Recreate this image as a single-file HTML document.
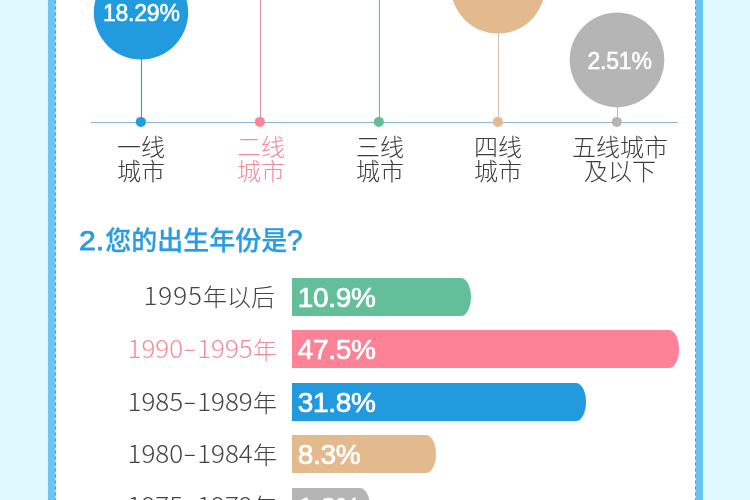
<!DOCTYPE html>
<html lang="zh-CN">
<head>
<meta charset="utf-8">
<title>调查结果</title>
<style>
html,body{margin:0;padding:0;}
body{width:750px;height:500px;overflow:hidden;position:relative;background:#e0f8ff;font-family:"Liberation Sans","Noto Sans CJK SC",sans-serif;}
svg{position:absolute;left:0;top:0;}
.bubt{position:absolute;width:120px;text-align:center;color:#fff;font-size:23px;letter-spacing:-0.2px;line-height:26px;height:26px;white-space:nowrap;-webkit-text-stroke:0.55px #fff;}
.city{position:absolute;width:140px;text-align:center;font-family:"Liberation Sans","Noto Sans CJK SC",sans-serif;font-weight:300;font-size:24px;line-height:24px;color:#3d3d3d;top:135.6px;}
h2{position:absolute;left:79px;top:222px;margin:0;font-size:26px;line-height:36px;font-weight:500;color:#2a9de0;white-space:nowrap;-webkit-text-stroke:0.25px #2a9de0;}
h2 span{font-size:27.5px;font-weight:normal;-webkit-text-stroke:0.75px #2a9de0;display:inline-block;transform:scaleX(1.1);transform-origin:left center;}
h2 .n{margin-right:3.2px;}
h2 .q{margin-left:-0.5px;font-size:29px;transform:scaleX(0.97);}
.lab{position:absolute;right:473px;width:220px;text-align:right;font-weight:300;font-size:24px;line-height:38px;height:38px;color:#444;white-space:nowrap;font-family:"Noto Sans CJK SC","Liberation Sans",sans-serif;}
.lab i{font-style:normal;display:inline-block;transform:translateY(-1.3px) scaleX(1.082);transform-origin:right center;}
.lab b{font-weight:300;display:inline-block;width:13px;text-align:center;transform:translateY(-1px) scaleX(1.55);}
.pct{position:absolute;left:297.8px;height:38px;color:#fff;font-weight:normal;font-size:28px;letter-spacing:-0.3px;-webkit-text-stroke:0.7px #fff;line-height:39px;white-space:nowrap;}
</style>
</head>
<body>
<svg width="750" height="500" viewBox="0 0 750 500">
  <rect x="48" y="0" width="8" height="500" fill="#6cc5f0"/>
  <rect x="695" y="0" width="8" height="500" fill="#6cc5f0"/>
  <rect x="56" y="0" width="639" height="500" fill="#ffffff"/>
  <line x1="55.5" y1="0" x2="55.5" y2="500" stroke="#c4e9fa" stroke-width="1"/>
  <line x1="695.5" y1="0" x2="695.5" y2="500" stroke="#c4e9fa" stroke-width="1"/>
  <line x1="55.5" y1="0" x2="55.5" y2="500" stroke="#4f9aba" stroke-width="1" stroke-dasharray="3.2 2.8" stroke-dashoffset="-0.4"/>
  <line x1="695.5" y1="0" x2="695.5" y2="500" stroke="#4f9aba" stroke-width="1" stroke-dasharray="3.2 2.8" stroke-dashoffset="-0.4"/>

  <rect x="91" y="122" width="587" height="1" fill="#8db7ce"/>
  <rect x="91" y="123" width="587" height="1" fill="#eafbfd"/>

  <rect x="140" y="40" width="1" height="82" fill="#e2fbff"/>
  <rect x="141" y="40" width="1" height="82" fill="#588dac"/>
  <rect x="261" y="0" width="1" height="122" fill="#fff1f7"/>
  <rect x="260" y="0" width="1" height="122" fill="#cf98a4"/>
  <rect x="378" y="0" width="1" height="122" fill="#e8fcfa"/>
  <rect x="379" y="0" width="1" height="122" fill="#82ac9c"/>
  <rect x="499" y="20" width="1" height="102" fill="#fffdf0"/>
  <rect x="498" y="20" width="1" height="102" fill="#d4bfae"/>
  <rect x="617" y="100" width="1" height="22" fill="#b6b6b6"/>

  <circle cx="140.85" cy="121.9" r="5" fill="#219bde"/>
  <circle cx="259.85" cy="121.9" r="5" fill="#fd8297"/>
  <circle cx="378.85" cy="121.9" r="5" fill="#63bf9a"/>
  <circle cx="497.85" cy="121.9" r="5" fill="#e2ba8d"/>
  <circle cx="616.85" cy="121.9" r="5" fill="#b5b5b5"/>

  <circle cx="141" cy="12.3" r="47.2" fill="#219bde"/>
  <circle cx="498" cy="-13.7" r="47.2" fill="#e2ba8d"/>
  <circle cx="617" cy="59.85" r="47.3" fill="#b5b5b5"/>

  <path d="M292 278H461A10 19 0 0 1 461 316H292Z" fill="#63bf9a"/>
  <path d="M292 330H669A10 19 0 0 1 669 368H292Z" fill="#fd8297"/>
  <path d="M292 383H576A10 19 0 0 1 576 421H292Z" fill="#219bde"/>
  <path d="M292 435H426A10 19 0 0 1 426 473H292Z" fill="#e2ba8d"/>
  <path d="M292 488H360A10 19 0 0 1 360 526H292Z" fill="#b5b5b5"/>
</svg>

<div class="bubt" style="left:81.3px;top:0.4px">18.29%</div>
<div class="bubt" style="left:559.6px;top:47.5px">2.51%</div>

<div class="city" style="left:71px">一线<br>城市</div>
<div class="city" style="left:191px;color:#f38b9c">二线<br>城市</div>
<div class="city" style="left:310px">三线<br>城市</div>
<div class="city" style="left:428px">四线<br>城市</div>
<div class="city" style="left:550px">五线城市<br>及以下</div>

<h2><span class="n">2.</span>您的出生年份是<span class="q">?</span></h2>

<div class="lab" style="top:277px;right:475px"><i style="letter-spacing:0.9px;margin-right:0.5px">1995</i>年以后</div>
<div class="lab" style="top:330px;color:#f38b9c"><i>1990<b>-</b>1995</i>年</div>
<div class="lab" style="top:383px"><i>1985<b>-</b>1989</i>年</div>
<div class="lab" style="top:435px"><i>1980<b>-</b>1984</i>年</div>
<div class="lab" style="top:487px"><i>1975<b>-</b>1979</i>年</div>

<div class="pct" style="top:278px">10.9%</div>
<div class="pct" style="top:330px">47.5%</div>
<div class="pct" style="top:383px">31.8%</div>
<div class="pct" style="top:435px">8.3%</div>
<div class="pct" style="top:487.5px">1.3%</div>
</body>
</html>
